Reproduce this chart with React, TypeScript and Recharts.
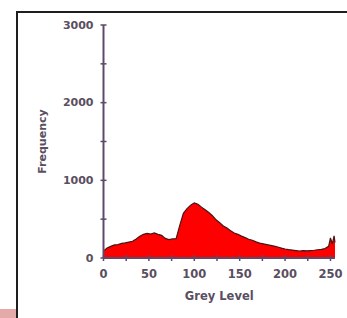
import React from "react";
import { AreaChart, Area, XAxis, YAxis } from "recharts";

const greyLevels = [
  0, 4, 8, 12, 16, 20, 24, 28, 32, 36, 40, 44, 48, 52, 56, 60, 64, 68, 72, 76,
  80, 84, 88, 92, 96, 100, 104, 108, 112, 116, 120, 124, 128, 132, 136, 140,
  144, 148, 152, 156, 160, 164, 168, 172, 176, 180, 184, 188, 192, 196, 200,
  204, 208, 212, 216, 220, 224, 228, 232, 236, 240, 244, 248, 250, 252, 254, 255,
];
const frequencies = [
  90, 130, 150, 168, 172, 188, 195, 205, 215, 245, 280, 305, 318, 308, 322, 305,
  292, 252, 238, 246, 250, 420, 575, 635, 680, 710, 692, 655, 622, 585, 545, 492,
  455, 412, 385, 352, 322, 305, 282, 262, 242, 228, 208, 192, 182, 172, 162, 152,
  142, 128, 116, 108, 102, 96, 90, 96, 92, 96, 100, 106, 112, 122, 150, 260, 180,
  285, 200,
];
const xTicks = [0, 25, 50, 75, 100, 125, 150, 175, 200, 225, 250];
const yTicks = [0, 500, 1000, 1500, 2000, 2500, 3000];

const data = greyLevels.map((level, i) => ({ level, freq: frequencies[i] }));

const axisColor = "#5e4a68";
const textColor = "#5a4e60";
const font = "DejaVu Sans, sans-serif";

const YTick = (props: any) => {
  const { x, y, payload } = props;
  const v = payload.value;
  return (
    <g>
      <line x1={x - 3} x2={x + 3} y1={y} y2={y} stroke={axisColor} strokeWidth={1.5} />
      {v % 1000 === 0 && (
        <text
          x={x - 10}
          y={y}
          textAnchor="end"
          dominantBaseline="central"
          fontFamily={font}
          fontWeight="bold"
          fontSize={11}
          fill={textColor}
        >
          {v}
        </text>
      )}
    </g>
  );
};

const XTick = (props: any) => {
  const { x, y, payload } = props;
  const v = payload.value;
  return (
    <g>
      <line x1={x} x2={x} y1={y - 3} y2={y + 3} stroke={axisColor} strokeWidth={1.5} />
      {v % 50 === 0 && (
        <text
          x={x}
          y={y + 16}
          textAnchor="middle"
          dominantBaseline="central"
          fontFamily={font}
          fontWeight="bold"
          fontSize={11.5}
          fill={textColor}
        >
          {v}
        </text>
      )}
    </g>
  );
};

const XTitle = (props: any) => {
  const vb = props.viewBox || {};
  return (
    <text
      x={vb.x + vb.width / 2}
      y={296}
      textAnchor="middle"
      dominantBaseline="central"
      fontFamily={font}
      fontWeight="bold"
      fontSize={11.5}
      fill={textColor}
    >
      Grey Level
    </text>
  );
};

const YTitle = (props: any) => {
  const vb = props.viewBox || {};
  const cy = vb.y + vb.height / 2;
  return (
    <text
      x={42}
      y={cy}
      transform={`rotate(-90, 42, ${cy})`}
      textAnchor="middle"
      dominantBaseline="central"
      fontFamily={font}
      fontWeight="bold"
      fontSize={11}
      fill={textColor}
    >
      Frequency
    </text>
  );
};

export default function App() {
  return (
    <div
      style={{
        position: "absolute",
        left: 0,
        top: 0,
        width: 347,
        height: 318,
        background: "#ffffff",
        overflow: "hidden",
      }}
    >
      <div style={{ position: "absolute", left: 16, top: 11, width: 2, height: 307, background: "#1e1e1e" }} />
      <div style={{ position: "absolute", left: 16, top: 11, width: 331, height: 2, background: "#1e1e1e" }} />
      <div style={{ position: "absolute", left: 0, top: 309, width: 16, height: 9, background: "#e4a9a9" }} />
      <div style={{ position: "absolute", left: 0, top: 0 }}>
        <AreaChart
          width={347}
          height={318}
          data={data}
          margin={{ top: 25, right: 12, bottom: 0, left: 0 }}
        >
          <XAxis
            dataKey="level"
            type="number"
            domain={[0, 255]}
            ticks={xTicks}
            interval={0}
            height={60}
            tickSize={0}
            tickMargin={0}
            tickLine={false}
            axisLine={{ stroke: axisColor, strokeWidth: 2 }}
            tick={<XTick />}
            label={{ content: <XTitle /> }}
          />
          <YAxis
            type="number"
            domain={[0, 3000]}
            ticks={yTicks}
            interval={0}
            width={103.5}
            tickSize={0}
            tickMargin={0}
            tickLine={false}
            axisLine={{ stroke: axisColor, strokeWidth: 2 }}
            tick={<YTick />}
            label={{ content: <YTitle /> }}
          />
          <Area
            type="linear"
            dataKey="freq"
            fill="#ff0000"
            fillOpacity={1}
            stroke="#4a1414"
            strokeWidth={1.2}
            dot={false}
            activeDot={false}
            isAnimationActive={false}
          />
        </AreaChart>
      </div>
    </div>
  );
}
